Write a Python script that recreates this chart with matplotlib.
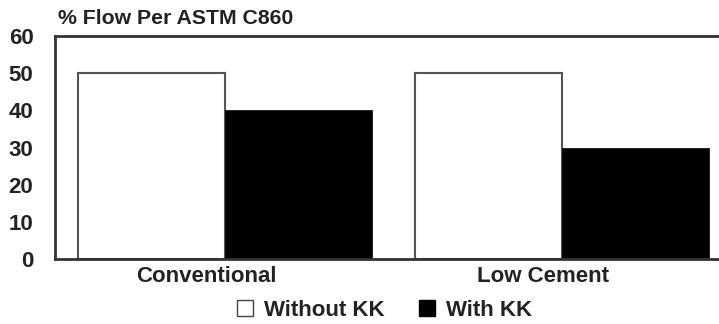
import numpy as np
import matplotlib
matplotlib.use('agg')
import matplotlib.pyplot as plt
from matplotlib.patches import Patch

plt.rcParams['font.family'] = ['Liberation Sans', 'DejaVu Sans']
plt.rcParams['font.weight'] = 'bold'

#---------------- data --------------------
categories = ["Conventional", "Low Cement"]
without_kk = [50, 50]
with_kk = [40, 30]
yticks = [0, 10, 20, 30, 40, 50, 60]

#---------------- plotting ----------------
fig = plt.figure(figsize=(7.19, 3.24), dpi=100)
ax = fig.add_axes([55/719, 1 - 259/324, 1 - 55/719, 223/324])

x = np.arange(len(categories))
w = 0.436
ax.bar(x - w/2, without_kk, w, color='white', edgecolor='#555555', linewidth=1.5)
ax.bar(x + w/2, with_kk, w, color='black', edgecolor='black', linewidth=0.5)

ax.set_xlim(-0.504, 1.466)
ax.set_ylim(0, 60)
ax.set_yticks(yticks)
ax.set_xticks(x - 0.055)
ax.set_xticklabels(categories)
ax.tick_params(length=0, labelsize=16, colors='#222222', pad=5)
ax.tick_params(axis='y', pad=15.5)
for lab in ax.get_xticklabels() + ax.get_yticklabels():
    lab.set_fontweight('bold')

ax.spines['right'].set_visible(False)
for s in ['left', 'top', 'bottom']:
    ax.spines[s].set_linewidth(2)
    ax.spines[s].set_color('#333333')

fig.text(58/719, 1 - 18/324, "% Flow Per ASTM C860", fontsize=15.3,
         fontweight='bold', color='#222222', va='center', ha='left')

handles = [Patch(facecolor='white', edgecolor='#444444', linewidth=1),
           Patch(facecolor='black', edgecolor='black')]
fig.legend(handles, ["Without KK", "With KK"], loc='center',
           bbox_to_anchor=(0.535, 1 - 310/324), ncol=2, frameon=False,
           handlelength=0.7, handleheight=0.7, handletextpad=0.5,
           columnspacing=1.55, prop={'size': 16, 'weight': 'bold'},
           labelcolor='#222222')

plt.savefig("out.png", dpi=100)
plt.close('all')
